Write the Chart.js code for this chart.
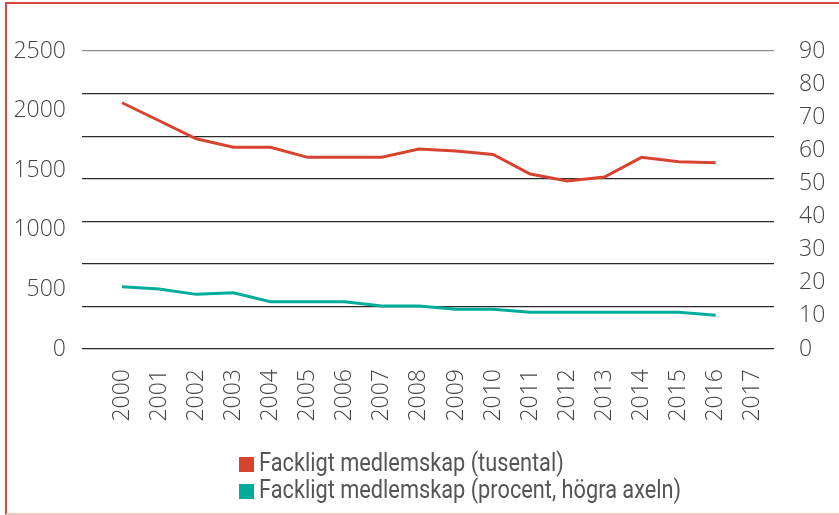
<!DOCTYPE html>
<html>
<head>
<meta charset="utf-8">
<script src="https://cdn.jsdelivr.net/npm/chart.js@4"></script>
<style>
    body { margin: 0; background: #fff; }
    #frame {
        position: absolute; left: 5px; top: 2px; width: 834px; height: 509px;
        border-top: 2px solid #d9483a; border-left: 2px solid #d9483a; border-bottom: 2px solid #f7c3be;
    }
    #wrap { position: absolute; left: 0; top: 0; width: 839px; height: 450px; }
    #legend {
        position: absolute; left: 239px; top: 449px;
        font-family: Roboto, "Noto Sans", sans-serif; font-size: 25px; color: #555;
    }
    .item { height: 27px; line-height: 27px; white-space: nowrap; }
    .box { display: inline-block; width: 15px; height: 15px; margin-right: 5px; vertical-align: -1px; }
    .txt { display: inline-block; transform: scaleX(0.87); transform-origin: left center; }
</style>
</head>
<body>
<div id="frame"></div>
<div id="wrap"><canvas id="chart"></canvas></div>
<div id="legend"></div>
<script>
// Data
const years = [2000, 2001, 2002, 2003, 2004, 2005, 2006, 2007, 2008, 2009, 2010, 2011, 2012, 2013, 2014, 2015, 2016, 2017];
const members = [2066, 1915, 1764, 1692, 1692, 1608, 1608, 1608, 1678, 1662, 1632, 1468, 1409, 1443, 1608, 1571, 1563];
const density = [18.8, 18.1, 16.5, 17.0, 14.3, 14.3, 14.3, 13.0, 13.0, 12.0, 12.0, 11.1, 11.1, 11.1, 11.1, 11.1, 10.2];
const leftTicks = [0, 500, 1000, 1500, 2000, 2500];
const rightTicks = [0, 10, 20, 30, 40, 50, 60, 70, 80, 90];
const seriesNames = ['Fackligt medlemskap (tusental)', 'Fackligt medlemskap (procent, högra axeln)'];
const red = '#d6432f';
const teal = '#00ad9b';

const tickFont = { family: '"Open Sans", sans-serif', size: 23, weight: '300' };
const tickColor = '#444';

function toPoints(values) {
    return values.map(function(v, i) {
        return { x: years[i], y: v };
    });
}

function plain(value) {
    return String(value);
}

new Chart(document.getElementById('chart'), {
    type: 'line',
    data: {
        datasets: [{
            label: seriesNames[0],
            data: toPoints(members),
            yAxisID: 'y',
            borderColor: red,
            backgroundColor: red,
            borderWidth: 3,
            pointRadius: 0,
            tension: 0
        }, {
            label: seriesNames[1],
            data: toPoints(density),
            yAxisID: 'y1',
            borderColor: teal,
            backgroundColor: teal,
            borderWidth: 3,
            pointRadius: 0,
            tension: 0
        }]
    },
    options: {
        responsive: true,
        maintainAspectRatio: false,
        animation: false,
        layout: { padding: { top: 51, bottom: 0, left: 0, right: 0 } },
        plugins: {
            legend: { display: false },
            tooltip: { enabled: false }
        },
        scales: {
            x: {
                type: 'linear',
                min: 1998.92,
                max: 2017.57,
                grid: { display: false },
                border: { display: false },
                afterBuildTicks: function(scale) {
                    scale.ticks = years.map(function(y) { return { value: y }; });
                },
                ticks: {
                    minRotation: 90,
                    maxRotation: 90,
                    padding: 12,
                    font: tickFont,
                    color: tickColor,
                    callback: plain
                },
                afterFit: function(scale) { scale.height = 101; }
            },
            // horizontal rules of the reference (7 equal bands)
            g: {
                type: 'linear',
                position: 'left',
                min: 0,
                max: 7,
                ticks: { display: false, stepSize: 1 },
                grid: { color: function(ctx) { return ctx.tick.value === 7 ? '#8a8a8a' : '#2a2a2a'; }, drawTicks: false, lineWidth: 1.2 },
                border: { display: false },
                afterFit: function(scale) { scale.width = 0; }
            },
            y: {
                type: 'linear',
                position: 'left',
                min: 0,
                max: 2500,
                afterBuildTicks: function(scale) {
                    scale.ticks = leftTicks.map(function(v) { return { value: v }; });
                },
                grid: { display: false },
                border: { display: false },
                ticks: { padding: 8, font: tickFont, color: tickColor, callback: plain },
                afterFit: function(scale) { scale.width = 82; }
            },
            y1: {
                type: 'linear',
                position: 'right',
                min: 0,
                max: 90,
                afterBuildTicks: function(scale) {
                    scale.ticks = rightTicks.map(function(v) { return { value: v }; });
                },
                grid: { display: false },
                border: { display: false },
                ticks: { padding: 17, font: tickFont, color: tickColor, callback: plain },
                afterFit: function(scale) { scale.width = 65; }
            }
        }
    }
});

// legend, stacked and left aligned like the reference
const legend = document.getElementById('legend');
[red, teal].forEach(function(color, i) {
    const row = document.createElement('div');
    row.className = 'item';
    row.innerHTML = '<span class="box" style="background:' + color + '"></span><span class="txt">' + seriesNames[i] + '</span>';
    legend.appendChild(row);
});
</script>
</body>
</html>
